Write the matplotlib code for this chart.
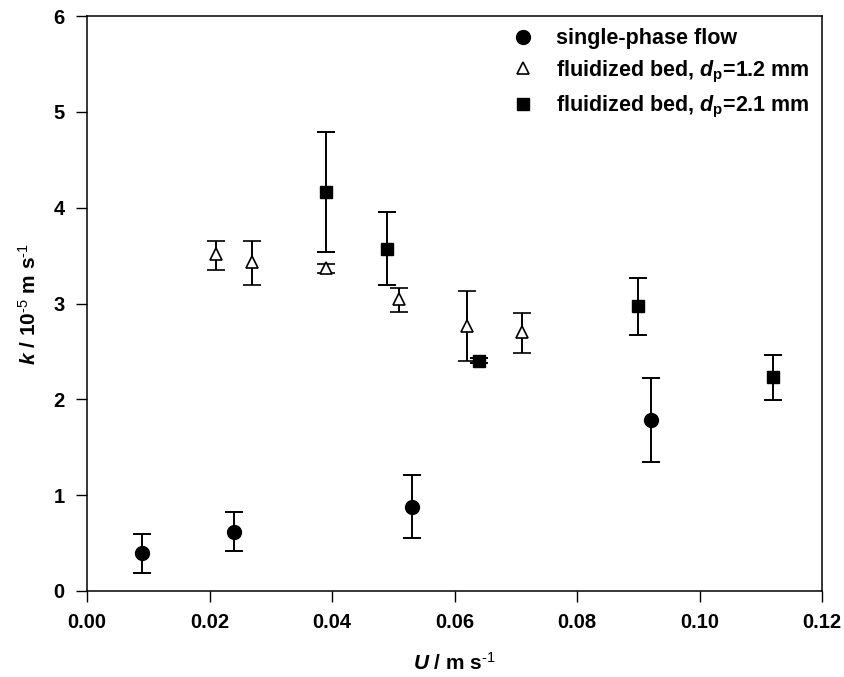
import matplotlib
matplotlib.use("Agg")
import matplotlib.pyplot as plt
import numpy as np

plt.rcParams['font.family'] = 'Liberation Sans'
plt.rcParams['mathtext.fontset'] = 'custom'
plt.rcParams['mathtext.rm'] = 'Liberation Sans'
plt.rcParams['mathtext.bf'] = 'Liberation Sans:bold'
plt.rcParams['mathtext.it'] = 'Liberation Sans:italic'
plt.rcParams['mathtext.bfit'] = 'Liberation Sans:bold:italic'

# single-phase flow
sp_u = [0.009, 0.024, 0.053, 0.092]
sp_k = [0.40, 0.62, 0.88, 1.78]
sp_lo = [0.19, 0.42, 0.55, 1.35]
sp_hi = [0.60, 0.82, 1.21, 2.22]

# fluidized bed, dp = 1.2 mm
fb12_u = [0.021, 0.027, 0.039, 0.051, 0.062, 0.071]
fb12_k = [3.52, 3.43, 3.37, 3.05, 2.77, 2.70]
fb12_lo = [3.35, 3.19, 3.32, 2.91, 2.40, 2.48]
fb12_hi = [3.65, 3.65, 3.41, 3.16, 3.13, 2.90]

# fluidized bed, dp = 2.1 mm
fb21_u = [0.039, 0.049, 0.064, 0.090, 0.112]
fb21_k = [4.16, 3.57, 2.40, 2.97, 2.23]
fb21_lo = [3.54, 3.19, 2.38, 2.67, 1.99]
fb21_hi = [4.79, 3.95, 2.43, 3.27, 2.46]

fig = plt.figure(figsize=(8.44, 6.77), dpi=100)
ax = fig.add_axes([87/844, 1-591/677, 735/844, 575/677])

def yerr(k, lo, hi):
    k = np.array(k)
    return [k - np.array(lo), np.array(hi) - k]

ekw = dict(ecolor='black', elinewidth=1.4, capsize=6.2, capthick=1.4, linestyle='none')

ax.errorbar(sp_u, sp_k, yerr=yerr(sp_k, sp_lo, sp_hi), marker='o', ms=10,
            mfc='black', mec='black', label='single-phase flow', **ekw)
ax.errorbar(fb12_u, fb12_k, yerr=yerr(fb12_k, fb12_lo, fb12_hi), marker='^', ms=9,
            mfc='white', mec='black', mew=1.2,
            label=r'fluidized bed, $\mathbfit{d}_{\mathbf{p}}$=1.2 mm', **ekw)
ax.errorbar(fb21_u, fb21_k, yerr=yerr(fb21_k, fb21_lo, fb21_hi), marker='s', ms=9.3,
            mfc='black', mec='black',
            label=r'fluidized bed, $\mathbfit{d}_{\mathbf{p}}$=2.1 mm', **ekw)

ax.set_xlim(0, 0.12)
ax.set_ylim(0, 6)
ax.set_xticks(np.arange(0, 0.121, 0.02))
ax.set_xticklabels([f'{v:.2f}' for v in np.arange(0, 0.121, 0.02)])
ax.set_yticks(range(0, 7))
ax.tick_params(direction='out', length=8, width=1, labelsize=14.5, pad=8)
for lab in ax.get_xticklabels() + ax.get_yticklabels():
    lab.set_fontweight('bold')
for s in ax.spines.values():
    s.set_linewidth(1.1)

ax.set_xlabel(r'$\mathbfit{U}$ / m s$^{\mathbf{\text{-1}}}$', fontsize=15, labelpad=14)
ax.set_ylabel(r'$\mathbfit{k}$ / 10$^{\mathbf{\text{-5}}}$ m s$^{\mathbf{\text{-1}}}$', fontsize=15, labelpad=10)
ax.xaxis.label.set_fontweight('bold')
ax.yaxis.label.set_fontweight('bold')

handles, labels = ax.get_legend_handles_labels()
handles = [h[0] for h in handles]
leg = ax.legend(handles, labels, loc='upper left', bbox_to_anchor=(0.56, 0.997),
                frameon=False, prop={'weight': 'bold', 'size': 15.5},
                handletextpad=0.85, labelspacing=0.42, handlelength=1.3,
                borderaxespad=0.1)

fig.savefig('out.png', dpi=100)
